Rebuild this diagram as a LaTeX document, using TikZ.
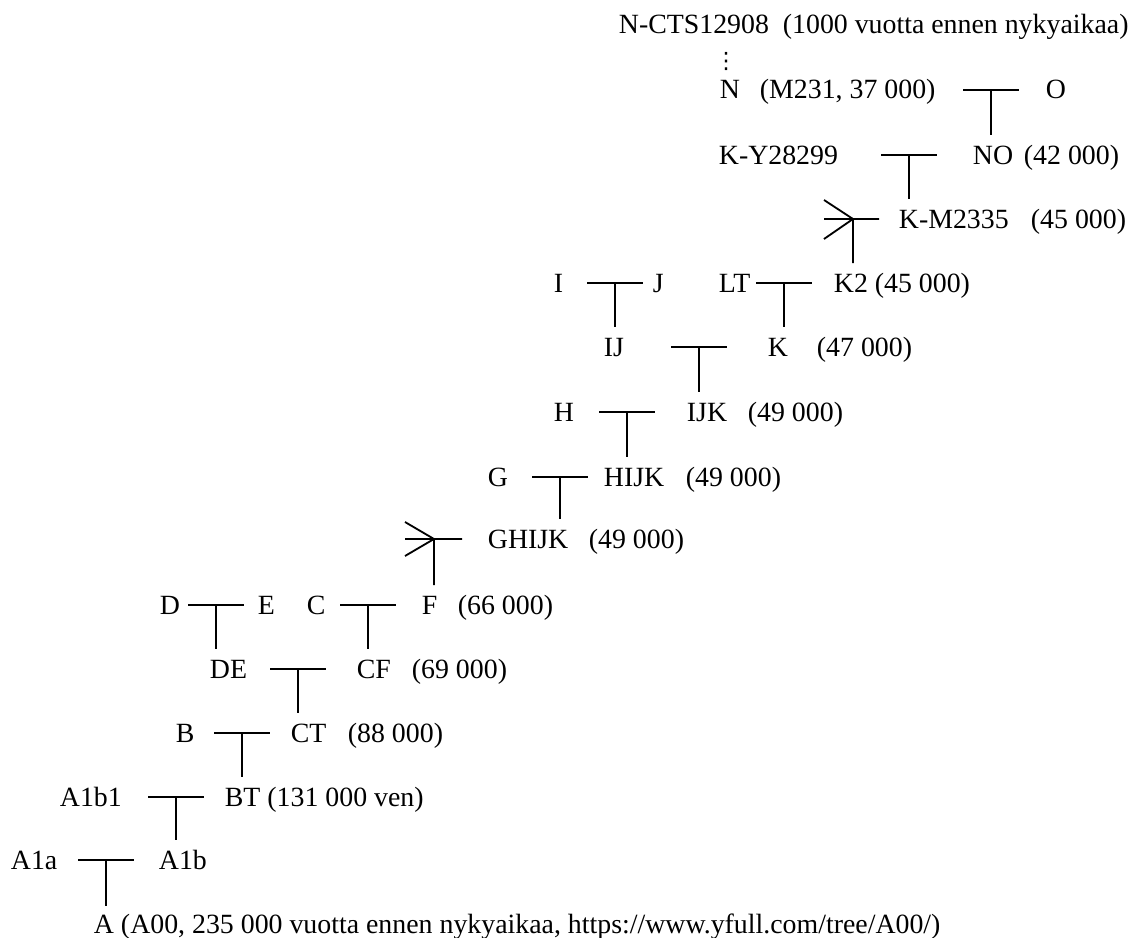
\documentclass[tikz,border=0pt]{standalone}
\usepackage{fontspec}
\setmainfont{Liberation Serif}
\newfontfamily\symfont{DejaVu Sans}

\begin{document}
\begin{tikzpicture}[x=0.025cm, y=-0.025cm, line width=1.3pt,
  lbl/.style={anchor=west, inner xsep=0pt, inner ysep=7pt, text height=12.9pt,
    text depth=0pt, font=\fontsize{19.8}{24}\selectfont}]
  \useasboundingbox (0,0) rectangle (1137,938);
  % labels, one row at a time from the top
  \node[lbl, inner ysep=2pt] (top) at (618,24) {N-CTS12908~~(1000 vuotta ennen nykyaikaa)};
  \node[inner sep=0pt, font=\fontsize{16}{18}\symfont] (dots) at (726,62) {⋮};
  \node[lbl] (N) at (719,89) {N};
  \node[lbl] (Ndate) at (759,89) {(M231, 37 000)};
  \node[lbl] (O) at (1045,89) {O};
  \node[lbl] (KY) at (718,155) {K-Y28299};
  \node[lbl] (NO) at (972,155) {NO};
  \node[lbl] (NOdate) at (1023,155) {(42 000)};
  \node[lbl] (KM) at (898,219) {K-M2335};
  \node[lbl] (KMdate) at (1030,219) {(45 000)};
  \node[lbl] (I) at (553,283) {I};
  \node[lbl] (J) at (652,283) {J};
  \node[lbl] (LT) at (718,283) {LT};
  \node[lbl] (K2) at (833,283) {K2 (45 000)};
  \node[lbl] (IJ) at (603,347) {IJ};
  \node[lbl] (K) at (767,347) {K};
  \node[lbl] (Kdate) at (816,347) {(47 000)};
  \node[lbl] (H) at (553,412) {H};
  \node[lbl] (IJK) at (686,412) {IJK};
  \node[lbl] (IJKdate) at (747,412) {(49 000)};
  \node[lbl] (G) at (487,477) {G};
  \node[lbl] (HIJK) at (603,477) {HIJK};
  \node[lbl] (HIJKdate) at (685,477) {(49 000)};
  \node[lbl] (GHIJK) at (487,539) {GHIJK};
  \node[lbl] (GHIJKdate) at (588,539) {(49 000)};
  \node[lbl] (D) at (159,605) {D};
  \node[lbl] (E) at (257,605) {E};
  \node[lbl] (C) at (306,605) {C};
  \node[lbl] (F) at (421,605) {F};
  \node[lbl] (Fdate) at (457,605) {(66 000)};
  \node[lbl] (DE) at (209,669) {DE};
  \node[lbl] (CF) at (356,669) {CF};
  \node[lbl] (CFdate) at (411,669) {(69 000)};
  \node[lbl] (B) at (175,733) {B};
  \node[lbl] (CT) at (290,733) {CT};
  \node[lbl] (CTdate) at (347,733) {(88 000)};
  \node[lbl] (A1b1) at (59,797) {A1b1};
  \node[lbl] (BT) at (224,797) {BT (131 000 ven)};
  \node[lbl] (A1a) at (10,860) {A1a};
  \node[lbl] (A1b) at (158,860) {A1b};
  \node[lbl, inner ysep=6pt] (A) at (93,924) {A (A00, 235 000 vuotta ennen nykyaikaa, https://www.yfull.com/tree/A00/)};
  % junctions of the T-shaped splits
  \coordinate (tNO) at (991,90);
  \coordinate (tKM) at (909,155);
  \coordinate (xK2) at (853,219);
  \coordinate (tIJ) at (615,283);
  \coordinate (tK) at (784,283);
  \coordinate (tIJK) at (699,347);
  \coordinate (tHIJK) at (627,412);
  \coordinate (tGHIJK) at (560,477);
  \coordinate (xF) at (434,539);
  \coordinate (tDE) at (216,605);
  \coordinate (tCF) at (368,605);
  \coordinate (tCT) at (298,669);
  \coordinate (tBT) at (242,733);
  \coordinate (tA1b) at (176,797);
  \coordinate (tA) at (106,860);
  \foreach \j/\p in {tNO/NO, tKM/KM, tIJ/IJ, tK/K, tIJK/IJK, tHIJK/HIJK,
      tGHIJK/GHIJK, tDE/DE, tCF/CF, tCT/CT, tBT/BT, tA1b/A1b, tA/A}
    \draw (\j) ++(-28,0) -- ++(56,0) (\j) -- (\j |- \p.north);
  % splits with more branches
  \draw (xK2) ++(-29,0) -- ++(55,0) (xK2) -- ++(-29,-19) (xK2) -- ++(-29,20)
    (xK2) -- (xK2 |- K2.north);
  \draw (xF) ++(-29,0) -- ++(57,0) (xF) -- ++(-29,-17) (xF) -- ++(-29,17)
    (xF) -- (xF |- F.north);
\end{tikzpicture}
\end{document}
